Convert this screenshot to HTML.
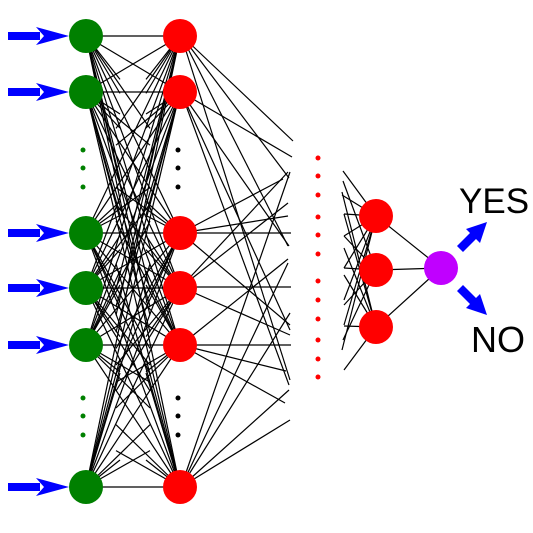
<!DOCTYPE html>
<html><head><style>body{margin:0;background:#fff}svg{display:block}</style></head><body>
<svg width="533" height="533" xmlns="http://www.w3.org/2000/svg">
<g stroke="#000" stroke-width="1.2" id="L"></g>
<g stroke="#000" stroke-width="1.2">
<line x1="181" y1="35" x2="293" y2="141"/><line x1="181" y1="35" x2="289" y2="178"/><line x1="181" y1="35" x2="288" y2="246"/><line x1="181" y1="35" x2="290" y2="380"/>
<line x1="181" y1="92" x2="292" y2="157"/><line x1="181" y1="92" x2="289" y2="246"/><line x1="181" y1="92" x2="290" y2="330"/><line x1="181" y1="92" x2="289" y2="385"/>
<line x1="181" y1="233" x2="283" y2="179"/><line x1="181" y1="233" x2="288" y2="216"/><line x1="181" y1="233" x2="291" y2="233"/><line x1="181" y1="233" x2="290" y2="325"/>
<line x1="181" y1="287" x2="288" y2="203"/><line x1="181" y1="287" x2="291" y2="287"/><line x1="181" y1="287" x2="290" y2="335"/><line x1="181" y1="287" x2="288" y2="172"/>
<line x1="181" y1="345" x2="288" y2="259"/><line x1="181" y1="345" x2="291" y2="345"/><line x1="181" y1="345" x2="286" y2="371"/><line x1="181" y1="345" x2="285" y2="403"/>
<line x1="181" y1="487" x2="290" y2="172"/><line x1="181" y1="487" x2="288" y2="263"/><line x1="181" y1="487" x2="290" y2="313"/><line x1="181" y1="487" x2="289" y2="390"/><line x1="181" y1="487" x2="290" y2="420"/>
<line x1="343" y1="171" x2="376" y2="216"/><line x1="343" y1="181" x2="376" y2="270"/><line x1="342" y1="192" x2="376" y2="327"/>
<line x1="342" y1="195" x2="376" y2="216"/><line x1="344" y1="214" x2="376" y2="216"/><line x1="344" y1="214" x2="376" y2="327"/>
<line x1="344" y1="236" x2="376" y2="216"/><line x1="344" y1="236" x2="376" y2="270"/><line x1="344" y1="248" x2="376" y2="327"/>
<line x1="344" y1="268" x2="376" y2="270"/><line x1="344" y1="268" x2="376" y2="216"/><line x1="344" y1="275" x2="376" y2="327"/>
<line x1="344" y1="300" x2="376" y2="216"/><line x1="344" y1="305" x2="376" y2="270"/><line x1="344" y1="325" x2="376" y2="216"/>
<line x1="344" y1="326" x2="376" y2="327"/><line x1="343" y1="340" x2="376" y2="270"/><line x1="342" y1="350" x2="376" y2="216"/><line x1="344" y1="370" x2="376" y2="327"/>
<line x1="376" y1="216" x2="441" y2="268"/><line x1="376" y1="270" x2="441" y2="268"/><line x1="376" y1="327" x2="441" y2="268"/>
</g>
<g fill="#008000" id="G"></g>
<g fill="#f00" id="R"></g>
<g fill="#f00"><circle cx="376" cy="216" r="17"/><circle cx="376" cy="270" r="17"/><circle cx="376" cy="327" r="17"/></g>
<circle cx="441" cy="268" r="17" fill="#c000ff"/>
<g fill="#008000"><circle cx="83" cy="150" r="2.5"/><circle cx="83" cy="168" r="2.5"/><circle cx="83" cy="187" r="2.5"/><circle cx="83" cy="398" r="2.5"/><circle cx="83" cy="416" r="2.5"/><circle cx="83" cy="435" r="2.5"/></g>
<g fill="#000"><circle cx="178" cy="150" r="2.5"/><circle cx="178" cy="168" r="2.5"/><circle cx="178" cy="187" r="2.5"/><circle cx="178" cy="398" r="2.5"/><circle cx="178" cy="416" r="2.5"/><circle cx="178" cy="435" r="2.5"/></g>
<g fill="#f00"><circle cx="318" cy="158" r="2.5"/><circle cx="318" cy="176" r="2.5"/><circle cx="318" cy="195" r="2.5"/><circle cx="318" cy="217" r="2.5"/><circle cx="318" cy="235" r="2.5"/><circle cx="318" cy="254" r="2.5"/><circle cx="318" cy="281" r="2.5"/><circle cx="318" cy="300" r="2.5"/><circle cx="318" cy="319" r="2.5"/><circle cx="318" cy="340" r="2.5"/><circle cx="318" cy="359" r="2.5"/><circle cx="318" cy="377" r="2.5"/></g>
<g fill="#00f" id="A"></g>
<g fill="#00f">
<polygon points="457,246 470,233 466,229 487,222 480,243 476,239 463,252"/>
<polygon points="457,291 470,304 466,308 487,315 480,294 476,298 463,285"/>
</g>
<text x="459" y="213" font-family="Liberation Sans, sans-serif" font-size="35">YES</text>
<text x="471" y="352" font-family="Liberation Sans, sans-serif" font-size="36">NO</text>
</svg>
<script>
var ys=[36,92,233,288,345,487],ns="http://www.w3.org/2000/svg";
function mk(p,t,a){var e=document.createElementNS(ns,t);for(var k in a)e.setAttribute(k,a[k]);document.getElementById(p).appendChild(e);}
var ext=[150,168,187,398,416,435];
ys.forEach(function(a){ys.forEach(function(b){mk("L","line",{x1:86,y1:a,x2:180,y2:b});});
ext.forEach(function(b,i){mk("L","line",{x1:86,y1:a,x2:(i%2?150:120),y2:a+(b-a)*(i%2?0.7:0.38)});mk("L","line",{x1:180,y1:a,x2:(i%2?116:146),y2:a+(b-a)*(i%2?0.7:0.38)});});
mk("G","circle",{cx:86,cy:a,r:17});mk("R","circle",{cx:180,cy:a,r:17});
mk("A","rect",{x:8,y:a-4,width:32,height:8});mk("A","polygon",{points:"36,"+(a-9)+" 69,"+a+" 36,"+(a+9)+" 44,"+a});});
</script>
</body></html>
